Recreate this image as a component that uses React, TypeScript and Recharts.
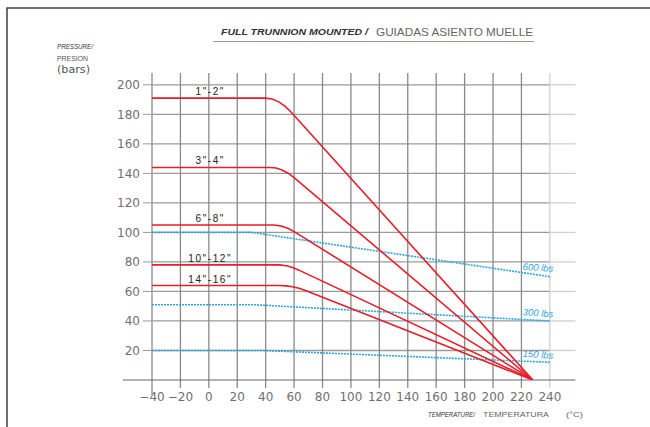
import React from 'react';
import {LineChart, Line, XAxis, YAxis, ReferenceLine, ReferenceDot} from 'recharts';

// temperature (°C) ticks and pressure (bar) ticks
const xTicks = [-40, -20, 0, 20, 40, 60, 80, 100, 120, 140, 160, 180, 200, 220, 240];
const yTicks = [20, 40, 60, 80, 100, 120, 140, 160, 180, 200];

const size1to2 = [
    {t: -40, p: 191}, {t: 40, p: 191}, {t: 44.5, p: 190.4}, {t: 49, p: 188.6},
    {t: 53.5, p: 185.6}, {t: 58, p: 181.4}, {t: 228, p: 0},
];
const size3to4 = [
    {t: -40, p: 144}, {t: 43, p: 144}, {t: 47.3, p: 143.6}, {t: 51.5, p: 142.3},
    {t: 55.8, p: 140.1}, {t: 60, p: 137.1}, {t: 228, p: 0},
];
const size6to8 = [
    {t: -40, p: 105}, {t: 45, p: 105}, {t: 48.8, p: 104.7}, {t: 52.5, p: 103.9},
    {t: 56.3, p: 102.5}, {t: 60, p: 100.5}, {t: 228, p: 0},
];
const size10to12 = [
    {t: -40, p: 78}, {t: 48, p: 78}, {t: 51.8, p: 77.8}, {t: 55.5, p: 77.2},
    {t: 59.3, p: 76.1}, {t: 63, p: 74.6}, {t: 228, p: 0},
];
const size14to16 = [
    {t: -40, p: 64}, {t: 50, p: 64}, {t: 54.5, p: 63.8}, {t: 59, p: 63.2},
    {t: 63.5, p: 62.1}, {t: 68, p: 60.6}, {t: 228, p: 0},
];

// body class ratings (blue)
const class600 = [{t: -40, p: 100}, {t: 30, p: 100}, {t: 240, p: 70}];
const class300 = [{t: -40, p: 51}, {t: 32, p: 51}, {t: 240, p: 40}];
const class150 = [{t: -40, p: 20}, {t: 38, p: 20}, {t: 240, p: 12}];

const sizeNames = ['1"-2"', '3"-4"', '6"-8"', '10"-12"', '14"-16"'];
const classNames = ['600 lbs', '300 lbs', '150 lbs'];

const RED = '#e61e2a';
const BLUE = '#2aa7df';

const sizeSeries = [size1to2, size3to4, size6to8, size10to12, size14to16];
const classSeries = [class600, class300, class150];

const valueAt = (pts: {t: number, p: number}[], t: number) => {
    for (let i = 1; i < pts.length; i++) {
        if (t <= pts[i].t) {
            const a = pts[i - 1], b = pts[i];
            return a.p + (b.p - a.p) * (t - a.t) / (b.t - a.t);
        }
    }
    return pts[pts.length - 1].p;
};

const fmt = (v: number) => (v < 0 ? `\u2212${-v}` : `${v}`);

const tickStyle = {fontFamily: 'DejaVu Sans', fontSize: 12, fill: '#707070'};

const App = () => {
    return (
        <div style={{position: 'absolute', left: 0, top: 0, width: 650, height: 427, background: '#fff'}}>
            <LineChart width={650} height={427} margin={{top: 73, right: 76, bottom: 17, left: 92}}>
                <XAxis dataKey="t" type="number" domain={[-40, 257]} ticks={xTicks} allowDataOverflow
                       tickFormatter={fmt} tick={tickStyle} tickLine={false} axisLine={false}
                       tickSize={8} tickMargin={4} height={30} interval={0}/>
                <YAxis type="number" domain={[0, 208]} ticks={yTicks} allowDataOverflow tick={tickStyle}
                       tickSize={9} tickMargin={3} width={60} interval={0}
                       tickLine={{stroke: '#999'}} axisLine={false}/>

                {yTicks.map((v) => (
                    <ReferenceLine key={'h' + v} segment={[{x: -40, y: v}, {x: 240, y: v}]}
                                   stroke="#9a9a9a" strokeWidth={1.3} ifOverflow="visible"/>
                ))}
                {yTicks.map((v) => (
                    <ReferenceLine key={'hr' + v} segment={[{x: 240, y: v}, {x: 258, y: v}]}
                                   stroke="#d0d0d0" strokeWidth={1.3} ifOverflow="visible"/>
                ))}
                {xTicks.map((t) => (
                    <ReferenceLine key={'v' + t} segment={[{x: t, y: t === -40 ? -10 : -5.5}, {x: t, y: 208}]}
                                   stroke={t === 240 ? '#d0d0d0' : t === -40 ? '#a0a0a0' : '#8a8a8a'}
                                   strokeWidth={t === -40 ? 1.6 : 1.3} ifOverflow="visible"/>
                ))}
                <ReferenceLine segment={[{x: -60.5, y: 0}, {x: 258, y: 0}]} stroke="#666" strokeWidth={1.2}
                               ifOverflow="visible"/>

                {classSeries.map((d, i) => (
                    <Line key={classNames[i]} data={d} dataKey="p" type="linear" stroke={BLUE}
                          strokeWidth={1.6} strokeDasharray="2 1" dot={false} isAnimationActive={false}/>
                ))}
                {sizeSeries.map((d, i) => (
                    <Line key={sizeNames[i]} data={d} dataKey="p" type="linear" stroke={RED}
                          strokeWidth={1.6} strokeLinejoin="round" dot={false} isAnimationActive={false}/>
                ))}

                {sizeSeries.map((d, i) => (
                    <ReferenceDot key={'l' + i} x={1} y={valueAt(d, 1)} r={1}
                                  shape={(props: any) => (
                                      <text x={props.cx} y={props.cy - 3} textAnchor="middle"
                                            fontFamily="Liberation Sans" fontSize={10} letterSpacing={1.6}
                                            fill="#222">{sizeNames[i]}</text>
                                  )}/>
                ))}
                {classSeries.map((d, i) => (
                    <ReferenceDot key={'c' + i} x={231.5} y={valueAt(d, 231.5)} r={1}
                                  shape={(props: any) => (
                                      <text x={props.cx} y={props.cy - 4} textAnchor="middle"
                                            fontFamily="Liberation Sans" fontSize={9.5} fontStyle="italic"
                                            fill={BLUE}
                                            transform={`rotate(4 ${props.cx} ${props.cy - 4})`}>{classNames[i]}</text>
                                  )}/>
                ))}
            </LineChart>

            <svg width={650} height={427} style={{position: 'absolute', left: 0, top: 0, pointerEvents: 'none'}}>
                <rect x={7} y={8} width={700} height={500} fill="none" stroke="#222" strokeWidth={1.3}/>
                <text x={221} y={35} fontFamily="Liberation Sans" fontSize={9} fontStyle="italic"
                      fontWeight="bold" fill="#333" textLength={147} lengthAdjust="spacingAndGlyphs">
                    FULL TRUNNION MOUNTED /
                </text>
                <text x={376} y={35.5} fontFamily="Liberation Sans" fontSize={10.5} fill="#666"
                      textLength={157} lengthAdjust="spacingAndGlyphs">GUIADAS ASIENTO MUELLE
                </text>
                <line x1={213} x2={534} y1={41.5} y2={41.5} stroke="#9a9a9a" strokeWidth={1}/>

                <text x={57} y={49} fontFamily="Liberation Sans" fontSize={8} fontStyle="italic"
                      fill="#333" textLength={36} lengthAdjust="spacingAndGlyphs">PRESSURE/
                </text>
                <text x={57} y={61} fontFamily="Liberation Sans" fontSize={8} fill="#555"
                      textLength={31} lengthAdjust="spacingAndGlyphs">PRESION
                </text>
                <text x={57} y={72.5} fontFamily="DejaVu Sans" fontSize={11} fill="#555"
                      textLength={33} lengthAdjust="spacingAndGlyphs">(bars)
                </text>

                <text x={428} y={416.5} fontFamily="Liberation Sans" fontSize={7.5} fontStyle="italic"
                      fill="#333" textLength={47} lengthAdjust="spacingAndGlyphs">TEMPERATURE/
                </text>
                <text x={483} y={416.5} fontFamily="Liberation Sans" fontSize={7.5} fill="#666"
                      textLength={66} lengthAdjust="spacingAndGlyphs">TEMPERATURA
                </text>
                <text x={566} y={416.5} fontFamily="Liberation Sans" fontSize={8} fill="#666"
                      textLength={17} lengthAdjust="spacingAndGlyphs">(°C)
                </text>
            </svg>
        </div>
    );
};

export default App;
